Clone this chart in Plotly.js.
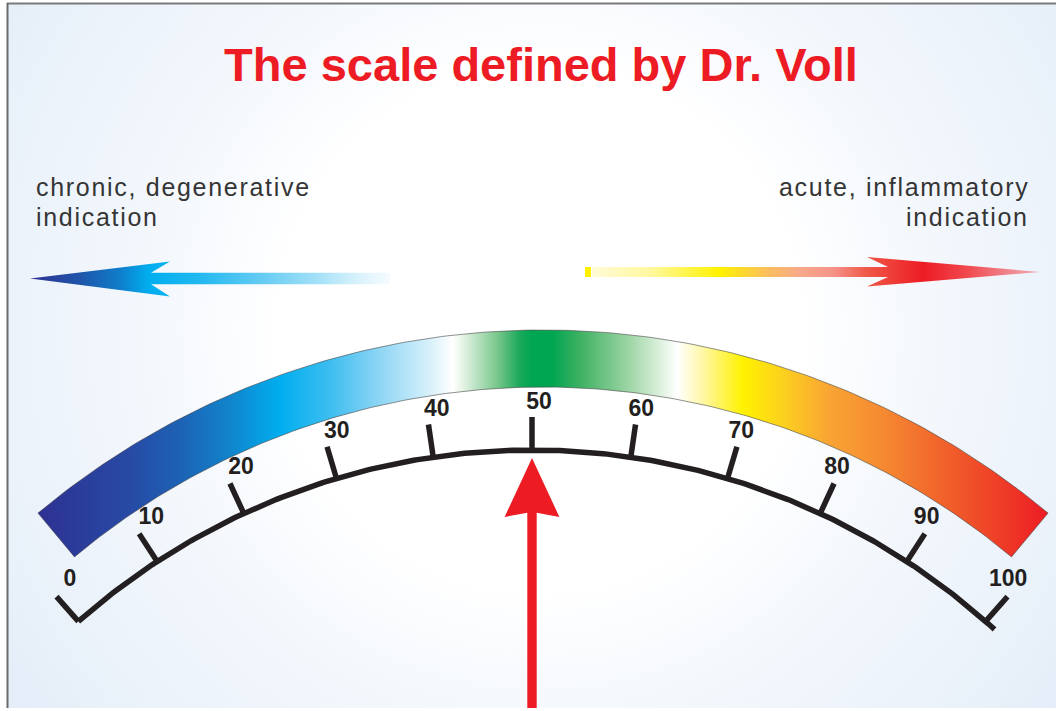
<!DOCTYPE html>
<html><head><meta charset="utf-8">
<script src="https://cdn.plot.ly/plotly-3.0.1.min.js"></script>
<style>
html,body{margin:0;padding:0;background:#fff;overflow:hidden}
#chart{width:1056px;height:711px}
.annotation-text{letter-spacing:1.7px}
</style></head><body><div id="chart"></div>
<script>
// ---------------- data ----------------
const scaleTicks = [0, 10, 20, 30, 40, 50, 60, 70, 80, 90, 100];
const tickLabels = ['0', '10', '20', '30', '40', '50', '60', '70', '80', '90', '100'];
const pointerValue = 50;
const titleText = 'The scale defined by Dr. Voll';
const leftLabelLines = ['chronic, degenerative', 'indication'];
const rightLabelLines = ['acute, inflammatory', 'indication'];

// colour band (fraction along band width -> colour)
const bandStops = [0, 0.091, 0.141, 0.190, 0.240, 0.289, 0.339, 0.388, 0.411, 0.420, 0.454, 0.477, 0.489, 0.509, 0.537, 0.586, 0.619, 0.633, 0.658, 0.698, 0.738, 0.784, 0.834, 0.883, 0.933, 1];
const bandColors = ['#2e3192', '#274aa5', '#1d62b4', '#1184cc', '#00aeef', '#3dbdf0', '#8fd6f5', '#d8f1fb', '#ffffff', '#e6f4e6', '#7cc88e', '#1aa85a', '#00a651', '#00a651', '#3fb163', '#9fd6a6', '#e3f3e3', '#ffffff', '#fff7a6', '#fff200', '#fcd01e', '#f9a434', '#f58b31', '#f26b2c', '#ef4a28', '#ed1c24'];

// arrows
const leftArrowStops = [0, 0.14, 0.25, 0.33, 0.47, 0.64, 0.81, 1];
const leftArrowColors = ['#2e3192', '#1f55aa', '#0f7ecb', '#00aeef', '#22b8f0', '#63cbf3', '#a8e2f8', 'rgba(238,249,254,0.6)'];
const rightArrowStops = [0, 0.13, 0.285, 0.39, 0.465, 0.54, 0.61, 0.74, 0.84, 1];
const rightArrowColors = ['#fffbd6', '#fff8a0', '#fff200', '#fbbf5c', '#f7a98a', '#f4928a', '#f05a48', '#ed1c24', '#f04a50', 'rgba(240,110,120,0.55)'];

// background glow
const bgStops = [0, 0.36, 0.5, 0.68, 0.86, 1];
const bgColors = ['#ffffff', '#ffffff', '#f6f9fd', '#eef4fb', '#e6eff9', '#e0ebf7'];

// ---------------- geometry (layout, px units of the axes) ----------------
const W = 1056, H = 711;
const SC = {cx: 532, cy: 1136, r: 686, degPerUnit: 0.828, tickLen: 33};
const LBL = {cx: 539, cy: 1112.5, r: 709.5};
const BAND = {cx: 543, cy: 1118, rOut: 788, rIn: 731, halfDeg: 39.86};

function pt(cx, cy, r, deg) {
  const t = deg * Math.PI / 180;
  return [cx + r * Math.sin(t), cy - r * Math.cos(t)];
}
function valDeg(v) { return (v - 50) * SC.degPerUnit; }
function toScale(stops, colors) { return stops.map((s, i) => [s, colors[i]]); }

const traces = [];

// background
const bgC = [540, 330], bgH = 720;
traces.push({
  type: 'scatter', mode: 'lines', hoverinfo: 'skip', showlegend: false,
  x: [bgC[0] - bgH, bgC[0] + bgH, bgC[0] + bgH, bgC[0] - bgH, bgC[0] - bgH],
  y: [bgC[1] - bgH, bgC[1] - bgH, bgC[1] + bgH, bgC[1] + bgH, bgC[1] - bgH],
  fill: 'toself', line: {width: 0},
  fillgradient: {type: 'radial', colorscale: toScale(bgStops, bgColors)}
});

// colour band
(function () {
  const xs = [], ys = [];
  const n = 160;
  for (let i = 0; i <= n; i++) {
    const d = -BAND.halfDeg + 2 * BAND.halfDeg * i / n;
    const p = pt(BAND.cx, BAND.cy, BAND.rOut, d); xs.push(p[0]); ys.push(p[1]);
  }
  for (let i = n; i >= 0; i--) {
    const d = -BAND.halfDeg + 2 * BAND.halfDeg * i / n;
    const p = pt(BAND.cx, BAND.cy, BAND.rIn, d); xs.push(p[0]); ys.push(p[1]);
  }
  xs.push(xs[0]); ys.push(ys[0]);
  traces.push({
    type: 'scatter', mode: 'lines', hoverinfo: 'skip', showlegend: false,
    x: xs, y: ys, fill: 'toself', line: {color: 'rgba(70,70,70,0.75)', width: 0.8},
    fillgradient: {type: 'horizontal', colorscale: toScale(bandStops, bandColors)}
  });
})();

// left arrow (pointing left)
(function () {
  const yc = 278.5;
  const xs = [30, 170, 151, 390, 390, 151, 170, 30];
  const ys = [yc, yc - 17, yc - 5.8, yc - 5.8, yc + 5.8, yc + 5.8, yc + 18, yc];
  traces.push({
    type: 'scatter', mode: 'lines', hoverinfo: 'skip', showlegend: false,
    x: xs, y: ys, fill: 'toself', line: {width: 0},
    fillgradient: {type: 'horizontal', colorscale: toScale(leftArrowStops, leftArrowColors)}
  });
})();

// right arrow (pointing right)
(function () {
  const yc = 272;
  const xs = [592, 888, 867, 1040, 867, 888, 592, 592];
  const ys = [yc - 5, yc - 5, yc - 15, yc, yc + 14.5, yc + 5, yc + 5, yc - 5];
  traces.push({
    type: 'scatter', mode: 'lines', hoverinfo: 'skip', showlegend: false,
    x: xs, y: ys, fill: 'toself', line: {width: 0},
    fillgradient: {type: 'horizontal', colorscale: toScale(rightArrowStops, rightArrowColors)}
  });
  traces.push({
    type: 'scatter', mode: 'lines', hoverinfo: 'skip', showlegend: false,
    x: [585, 591, 591, 585, 585], y: [yc - 5, yc - 5, yc + 5, yc + 5, yc - 5],
    fill: 'toself', fillcolor: '#fff200', line: {width: 0}
  });
})();

// scale arc
(function () {
  const xs = [], ys = [];
  const vMin = scaleTicks[0], vMax = scaleTicks[scaleTicks.length - 1];
  for (let v = vMin; v <= vMax + 1.2001; v += 0.4) {
    const p = pt(SC.cx, SC.cy, SC.r, valDeg(v)); xs.push(p[0]); ys.push(p[1]);
  }
  traces.push({
    type: 'scatter', mode: 'lines', hoverinfo: 'skip', showlegend: false,
    x: xs, y: ys, line: {color: '#231f20', width: 5.5}
  });
  // ticks
  const tx = [], ty = [];
  scaleTicks.forEach(v => {
    const a = pt(SC.cx, SC.cy, SC.r, valDeg(v));
    const b = pt(SC.cx, SC.cy, SC.r + SC.tickLen, valDeg(v));
    tx.push(a[0], b[0], null); ty.push(a[1], b[1], null);
  });
  traces.push({
    type: 'scatter', mode: 'lines', hoverinfo: 'skip', showlegend: false,
    x: tx, y: ty, line: {color: '#231f20', width: 5.5}
  });
  // tick labels
  const lx = [], ly = [];
  scaleTicks.forEach(v => {
    const p = pt(LBL.cx, LBL.cy, LBL.r, valDeg(v));
    lx.push(p[0]); ly.push(p[1]);
  });
  traces.push({
    type: 'scatter', mode: 'text', hoverinfo: 'skip', showlegend: false,
    x: lx, y: ly, text: tickLabels, textposition: 'middle center', cliponaxis: false,
    textfont: {family: 'Liberation Sans, Arial, sans-serif', size: 23, weight: 'bold', color: '#231f20'}
  });
})();

// red pointer arrow at pointerValue
(function () {
  const tip = pt(SC.cx, SC.cy, SC.r, valDeg(pointerValue));
  const px = tip[0], ty = tip[1] + 8;
  const hw = 27.4, hl = 59, notch = 54.7, sw = 4.7, bottom = 720;
  const xs = [px, px + hw, px + sw, px + sw, px - sw, px - sw, px - hw, px];
  const ys = [ty, ty + hl, ty + notch, bottom, bottom, ty + notch, ty + hl, ty];
  traces.push({
    type: 'scatter', mode: 'lines', hoverinfo: 'skip', showlegend: false,
    x: xs, y: ys, fill: 'toself', fillcolor: '#ed1c24', line: {width: 0}
  });
})();

// annotations
const annotations = [];
const sideFont = {family: 'Liberation Sans, Arial, sans-serif', size: 25, color: '#353535'};
leftLabelLines.forEach((t, i) => annotations.push({
  x: 34, y: 187 + 30 * i, xref: 'x', yref: 'y', text: t, showarrow: false,
  xanchor: 'left', yanchor: 'middle', font: sideFont
}));
rightLabelLines.forEach((t, i) => annotations.push({
  x: 1031, y: 187 + 30 * i, xref: 'x', yref: 'y', text: t, showarrow: false,
  xanchor: 'right', yanchor: 'middle', font: sideFont
}));

const shapes = [
  {type: 'rect', xref: 'x', yref: 'y', x0: 0, x1: 7, y0: 0, y1: H, fillcolor: '#ffffff', line: {width: 0}, layer: 'above'},
  {type: 'rect', xref: 'x', yref: 'y', x0: 0, x1: W, y0: 0, y1: 3, fillcolor: '#ffffff', line: {width: 0}, layer: 'above'},
  {type: 'rect', xref: 'x', yref: 'y', x0: 0, x1: W, y0: 708, y1: H, fillcolor: '#ffffff', line: {width: 0}, layer: 'above'},
  {type: 'line', xref: 'x', yref: 'y', x0: 7, x1: W, y0: 3.5, y1: 3.5, line: {color: '#7a7a7a', width: 2}, layer: 'above'},
  {type: 'line', xref: 'x', yref: 'y', x0: 7.5, x1: 7.5, y0: 3, y1: 708, line: {color: '#6a6a6a', width: 2}, layer: 'above'}
];

const layout = {
  width: W, height: H,
  margin: {l: 0, r: 0, t: 0, b: 0, pad: 0},
  paper_bgcolor: '#ffffff', plot_bgcolor: '#ffffff',
  showlegend: false,
  xaxis: {range: [0, W], visible: false, fixedrange: true},
  yaxis: {range: [H, 0], visible: false, fixedrange: true},
  title: {
    text: titleText, x: 541 / W, xref: 'paper', xanchor: 'center',
    y: 1 - 65 / H, yref: 'paper', yanchor: 'middle',
    font: {family: 'Liberation Sans, Arial, sans-serif', size: 47, weight: 'bold', color: '#ed1c24'}
  },
  annotations: annotations,
  shapes: shapes
};

Plotly.newPlot('chart', traces, layout, {staticPlot: true, displayModeBar: false});
</script></body></html>
